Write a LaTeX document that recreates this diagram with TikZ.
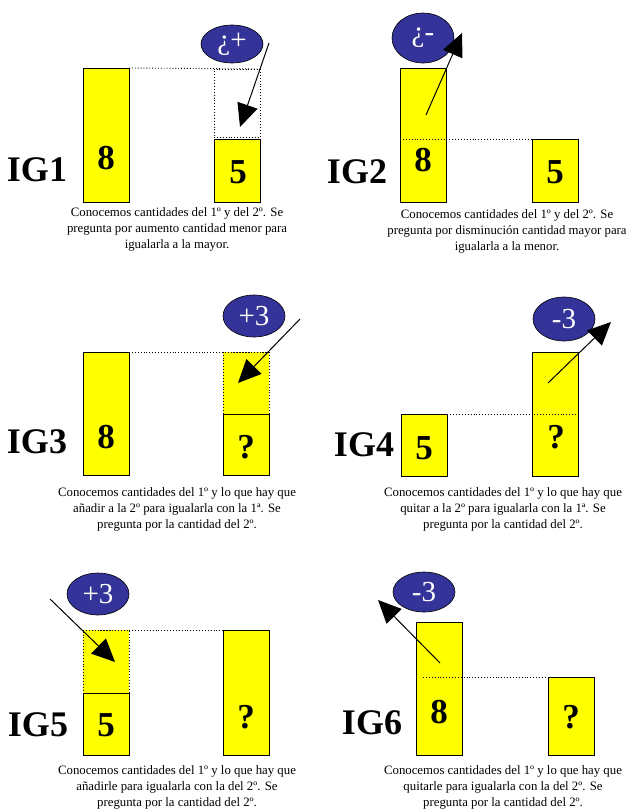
\documentclass[tikz,border=0pt]{standalone}
\usepackage{fontspec}
\setmainfont{Liberation Serif}
\usetikzlibrary{arrows.meta, positioning, shapes.geometric}
\definecolor{barYellow}{HTML}{FFFF00}
\definecolor{ovalBlue}{HTML}{333399}

\begin{document}
\begin{tikzpicture}[x=1pt, y=-1pt,
  every node/.style={inner sep=0pt, outer sep=0pt},
  bar/.style  ={rectangle, draw, line width=0.9pt, fill=barYellow,
                anchor=north west, minimum width=46pt},
  ghost/.style={rectangle, draw, dotted, line width=0.9pt,
                anchor=north west, minimum width=46pt},
  oval/.style ={ellipse, draw, line width=0.6pt, fill=ovalBlue, text=white,
                font=\fontsize{29}{29}\selectfont, minimum width=62pt},
  num/.style  ={font=\fontsize{35}{35}\selectfont\bfseries},
  tag/.style  ={font=\fontsize{36}{36}\selectfont\bfseries},
  note/.style ={font=\fontsize{12.8}{16}\selectfont, align=center},
  level/.style={dotted, line width=0.9pt},
  push/.style ={-{Triangle[length=23pt, width=21pt]}, line width=1pt},
]

\useasboundingbox (0,0) rectangle (626,809);

% IG1
\node[bar, minimum height=134pt]                    (a1) at (83,68)   {};
\node[bar, minimum height=63pt]                     (b1) at (214,139) {};
\node[ghost, minimum height=68pt]                   (d1) at (214,69)  {};
\node[num]                                          (n1) at (106,158) {8};
\node[num]                                          (m1) at (238,172) {5};
\draw[level] (a1.north east) -- (d1.north east);
\node[oval, minimum height=38pt]                    (e1) at (232,44)  {¿+};
\node[tag]                                          (g1) at (37,170)  {IG1};
\node[note]                                         (c1) at (177,229)
  {Conocemos cantidades del 1º y del 2º. Se\\
   pregunta por aumento cantidad menor para\\
   igualarla a la mayor.};
\coordinate (s1) at (269,43);
\coordinate (t1) at (240,127);
\draw[push] (s1) -- (t1);

% IG2
\node[bar, minimum height=134pt]                    (a2) at (400,68)  {};
\node[bar, minimum height=63pt]                     (b2) at (532,139) {};
\node[num]                                          (n2) at (423,160) {8};
\node[num]                                          (m2) at (555,172) {5};
\draw[level] (a2.west |- b2.north) -- (b2.north east);
\node[oval, minimum height=50pt]                    (e2) at (423,38)  {¿-};
\node[tag]                                          (g2) at (357,172) {IG2};
\node[note]                                         (c2) at (507,231)
  {Conocemos cantidades del 1º y del 2º. Se\\
   pregunta por disminución cantidad mayor para\\
   igualarla a la menor.};
\coordinate (s2) at (426,115);
\coordinate (t2) at (462,33);
\draw[push] (s2) -- (t2);

% IG3
\node[bar, minimum height=123pt]                    (a3) at (83,352)  {};
\node[bar, minimum height=61pt]                     (b3) at (223,414) {};
\node[ghost, fill=barYellow, minimum height=62pt]   (d3) at (223,352) {};
\node[num]                                          (n3) at (106,437) {8};
\node[num]                                          (m3) at (246,447) {?};
\draw[level] (a3.north east) -- (d3.north east);
\node[oval, minimum height=42pt]                    (e3) at (254,316) {+3};
\node[tag]                                          (g3) at (37,442)  {IG3};
\node[note]                                         (c3) at (177,509)
  {Conocemos cantidades del 1º y lo que hay que\\
   añadir a la 2º para igualarla con la 1ª. Se\\
   pregunta por la cantidad del 2º.};
\coordinate (s3) at (300,319);
\coordinate (t3) at (238,383);
\draw[push] (s3) -- (t3);

% IG4
\node[bar, minimum height=62pt]                     (a4) at (401,414) {};
\node[bar, minimum height=124pt]                    (b4) at (532,352) {};
\node[num]                                          (n4) at (424,448) {5};
\node[num]                                          (m4) at (556,437) {?};
\draw[level] (a4.north west) -- (b4.east |- a4.north);
\node[oval, minimum height=44pt]                    (e4) at (564,319) {-3};
\node[tag]                                          (g4) at (364,445) {IG4};
\node[note]                                         (c4) at (503,509)
  {Conocemos cantidades del 1º y lo que hay que\\
   quitar a la 2º para igualarla con la 1ª. Se\\
   pregunta por la cantidad del 2º.};
\coordinate (s4) at (548,383);
\coordinate (t4) at (611,322);
\draw[push] (s4) -- (t4);

% IG5
\node[bar, minimum height=62pt]                     (a5) at (83,693)  {};
\node[ghost, fill=barYellow, minimum height=63pt]   (d5) at (83,630)  {};
\node[bar, minimum height=125pt]                    (b5) at (223,630) {};
\node[num]                                          (n5) at (106,725) {5};
\node[num]                                          (m5) at (246,717) {?};
\draw[level] (d5.north west) -- (b5.north west);
\node[oval, minimum height=42pt]                    (e5) at (98,594)  {+3};
\node[tag]                                          (g5) at (38,725)  {IG5};
\node[note]                                         (c5) at (177,787)
  {Conocemos cantidades del 1º y lo que hay que\\
   añadirle para igualarla con la del 2º. Se\\
   pregunta por la cantidad del 2º.};
\coordinate (s5) at (50,599);
\coordinate (t5) at (115,662);
\draw[push] (s5) -- (t5);

% IG6
\node[bar, minimum height=133pt]                    (a6) at (416,622) {};
\node[bar, minimum height=78pt]                     (b6) at (548,677) {};
\node[num]                                          (n6) at (439,712) {8};
\node[num]                                          (m6) at (571,717) {?};
\coordinate (l6) at (423,677);
\draw[level] (l6) -- (b6.north west);
\node[oval, minimum height=40pt]                    (e6) at (424,592) {-3};
\node[tag]                                          (g6) at (372,723) {IG6};
\node[note]                                         (c6) at (503,787)
  {Conocemos cantidades del 1º y lo que hay que\\
   quitarle para igualarla con la del 2º. Se\\
   pregunta por la cantidad del 2º.};
\coordinate (s6) at (440,663);
\coordinate (t6) at (378,600);
\draw[push] (s6) -- (t6);

\end{tikzpicture}
\end{document}
